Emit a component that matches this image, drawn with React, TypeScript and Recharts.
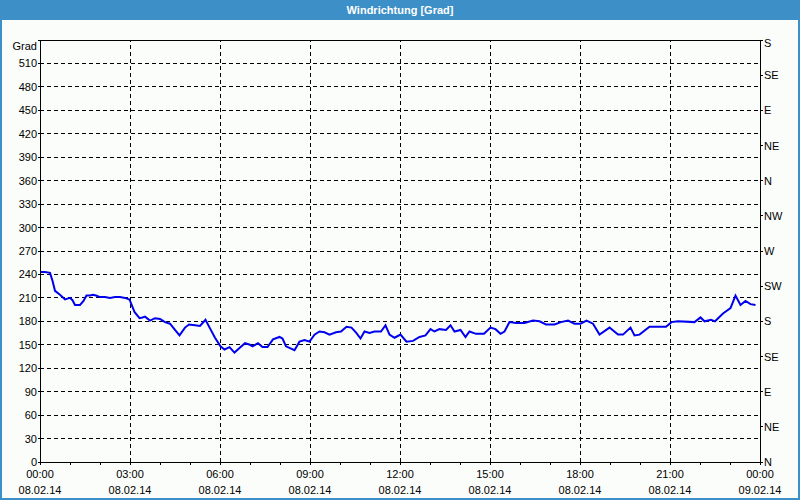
import React from "react";
import {
  LineChart,
  Line,
  CartesianGrid,
  XAxis,
  YAxis,
  ReferenceLine,
} from "recharts";

// minutes since 08.02.14 00:00
const minutes = [
  0, 10, 20, 25, 30, 40, 50, 55, 60, 65, 70, 80, 87, 93, 100, 106, 112, 120,
  130, 140, 150, 160, 170, 179, 189, 199, 205, 210, 220, 230, 240, 250, 260,
  270, 279, 290, 298, 310, 320, 331, 340, 350, 361, 369, 379, 389, 399, 410,
  420, 425, 436, 445, 455, 466, 479, 485, 492, 509, 519, 529, 539, 549, 559,
  569, 579, 592, 602, 613, 623, 633, 641, 649, 659, 669, 682, 691, 699, 709,
  721, 733, 746, 759, 771, 781, 789, 799, 812, 821, 829, 841, 851, 859, 872,
  888, 901, 911, 921, 929, 939, 952, 969, 986, 999, 1012, 1029, 1042, 1056,
  1069, 1081, 1093, 1106, 1119, 1139, 1156, 1166, 1181, 1189, 1199, 1219,
  1252, 1263, 1276, 1309, 1321, 1329, 1342, 1350, 1366, 1381, 1391, 1401,
  1411, 1421, 1431,
];

const windDir = [
  243, 243, 242, 232, 219, 214, 208, 209, 210, 207, 201, 201, 206, 213, 213,
  214, 213, 211, 211, 210, 211, 211, 210, 208, 192, 184, 185, 186, 181, 184,
  183, 179, 177, 169, 162, 172, 176, 175, 174, 182, 171, 159, 148, 144, 147,
  140, 146, 152, 150, 148, 152, 147, 147, 157, 160, 158, 148, 143, 154, 156,
  154, 163, 167, 166, 163, 166, 167, 173, 172, 165, 158, 167, 165, 167, 167,
  175, 163, 159, 163, 154, 155, 160, 162, 170, 167, 170, 169, 175, 167, 169,
  160, 167, 164, 164, 172, 170, 164, 167, 179, 178, 178, 181, 180, 176, 176,
  179, 181, 177, 177, 181, 177, 163, 172, 163, 163, 172, 162, 163, 173, 173,
  179, 180, 179, 185, 180, 182, 180, 190, 197, 213, 201, 206, 202, 201,
];

const xTicks = [
  0, 60, 120, 180, 240, 300, 360, 420, 480, 540, 600, 660, 720, 780, 840, 900,
  960, 1020, 1080, 1140, 1200, 1260, 1320, 1380, 1440,
];
const xGridLines = [180, 360, 540, 720, 900, 1080, 1260];
const timeLabels = [
  "00:00", "03:00", "06:00", "09:00", "12:00", "15:00", "18:00", "21:00", "00:00",
];
const dateLabels = [
  "08.02.14", "08.02.14", "08.02.14", "08.02.14", "08.02.14", "08.02.14",
  "08.02.14", "08.02.14", "09.02.14",
];

const gradTicks = [
  0, 30, 60, 90, 120, 150, 180, 210, 240, 270, 300, 330, 360, 390, 420, 450,
  480, 510, 540,
];
const compassTicks = [0, 45, 90, 135, 180, 225, 270, 315, 360, 405, 450, 495, 540];
const compassLabels = [
  "N", "NE", "E", "SE", "S", "SW", "W", "NW", "N", "NE", "E", "SE", "S",
];

const data = minutes.map((m, i) => ({ t: m, dir: windDir[i] }));

const FONT = "'Liberation Sans', Arial, sans-serif";

const GradTick = (props: any) => {
  const { x, y, payload } = props;
  const v = payload.value;
  return (
    <text
      x={x}
      y={v === 540 ? y + 10 : y + 4}
      textAnchor="end"
      fontSize={11}
      fontFamily={FONT}
      fill="#000"
    >
      {v === 540 ? "Grad" : v}
    </text>
  );
};

const CompassTick = (props: any) => {
  const { x, y, payload } = props;
  const i = compassTicks.indexOf(Number(payload.value));
  return (
    <text
      x={x}
      y={payload.value === 540 ? y + 7 : y + 4}
      textAnchor="start"
      fontSize={11}
      fontFamily={FONT}
      fill="#000"
    >
      {compassLabels[i]}
    </text>
  );
};

const TimeTick = (props: any) => {
  const { x, y, payload } = props;
  const v = payload.value;
  if (v % 180 !== 0) return <g />;
  const i = v / 180;
  return (
    <g>
      <text x={x} y={y + 11} textAnchor="middle" fontSize={11} fontFamily={FONT} fill="#000">
        {timeLabels[i]}
      </text>
      <text x={x} y={y + 27} textAnchor="middle" fontSize={11} fontFamily={FONT} fill="#000">
        {dateLabels[i]}
      </text>
    </g>
  );
};

export default function App() {
  return (
    <div
      style={{
        position: "absolute",
        left: 0,
        top: 0,
        width: 800,
        height: 500,
        background: "#3d8fc7",
        overflow: "hidden",
      }}
    >
      <div
        style={{
          position: "absolute",
          left: 0,
          top: 0,
          width: 800,
          height: 20,
          lineHeight: "21px",
          textAlign: "center",
          color: "#fff",
          fontFamily: FONT,
          fontWeight: "bold",
          fontSize: 11,
        }}
      >
        Windrichtung [Grad]
      </div>
      <div
        style={{
          position: "absolute",
          left: 2,
          top: 20,
          width: 796,
          height: 478,
          background: "#fbfdfb",
        }}
      />
      <div style={{ position: "absolute", left: 0, top: 20 }}>
        <LineChart
          width={800}
          height={480}
          data={data}
          margin={{ top: 20, right: 0, bottom: 0, left: 0 }}
        >
          <CartesianGrid
            vertical={false}
            stroke="#000"
            strokeDasharray="4 3"
            shapeRendering="crispEdges"
          />
          {xGridLines.map((v) => (
            <ReferenceLine
              key={v}
              x={v}
              stroke="#000"
              strokeDasharray="4 3"
              shapeRendering="crispEdges"
            />
          ))}
          <ReferenceLine y={540} stroke="#000" shapeRendering="crispEdges" />
          <XAxis
            dataKey="t"
            type="number"
            domain={[0, 1440]}
            ticks={xTicks}
            interval={0}
            height={38}
            tickSize={3}
            tickMargin={2}
            stroke="#000"
            axisLine={{ stroke: "#000", shapeRendering: "crispEdges" }}
            tickLine={{ stroke: "#000", shapeRendering: "crispEdges" }}
            tick={<TimeTick />}
          />
          <YAxis
            type="number"
            domain={[0, 540]}
            ticks={gradTicks}
            interval={0}
            width={40}
            tickSize={2}
            tickMargin={1}
            axisLine={{ stroke: "#000", shapeRendering: "crispEdges" }}
            tickLine={{ stroke: "#000", shapeRendering: "crispEdges" }}
            tick={<GradTick />}
          />
          <YAxis
            yAxisId="right"
            orientation="right"
            type="number"
            domain={[0, 540]}
            ticks={compassTicks}
            interval={0}
            width={40}
            tickSize={3}
            tickMargin={1}
            axisLine={{ stroke: "#000", shapeRendering: "crispEdges" }}
            tickLine={{ stroke: "#000", shapeRendering: "crispEdges" }}
            tick={<CompassTick />}
          />
          {/* invisible copy so the right axis gets its ticks */}
          <Line
            yAxisId="right"
            type="linear"
            dataKey="dir"
            stroke="none"
            dot={false}
            activeDot={false}
            isAnimationActive={false}
          />
          <Line
            type="linear"
            dataKey="dir"
            stroke="#0000ee"
            strokeWidth={2}
            dot={false}
            isAnimationActive={false}
          />
        </LineChart>
      </div>
    </div>
  );
}
